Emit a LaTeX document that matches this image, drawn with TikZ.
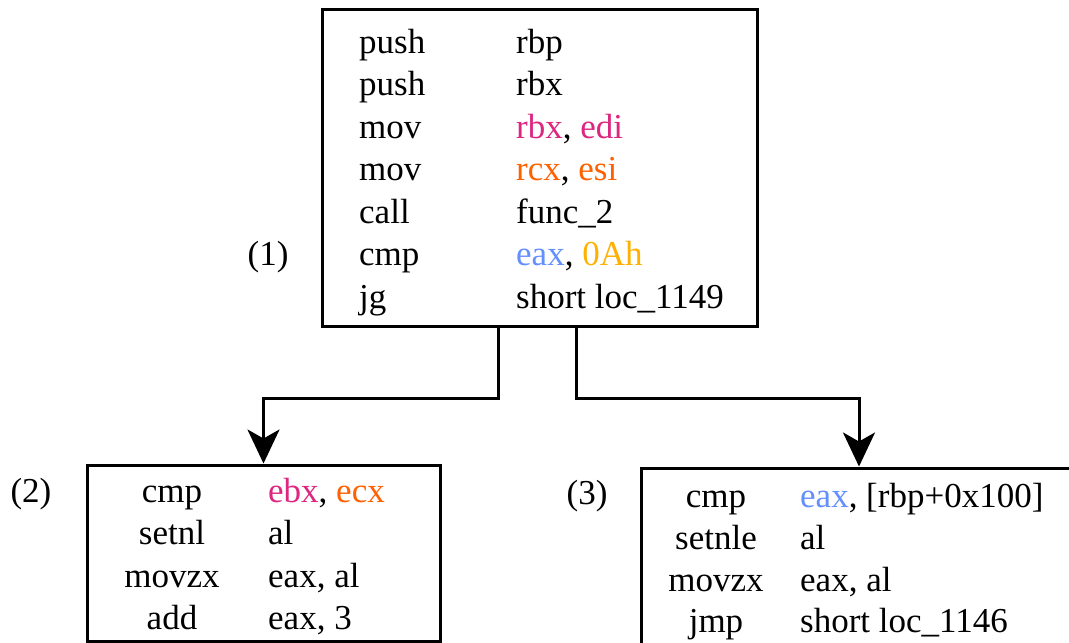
\documentclass[tikz,border=0pt]{standalone}
\usepackage{fontspec}
\setmainfont{Liberation Serif}
\usetikzlibrary{arrows.meta}
\definecolor{cmag}{HTML}{DC267F}
\definecolor{corg}{HTML}{FE6100}
\definecolor{cblu}{HTML}{648FFF}
\definecolor{cyel}{HTML}{FFB000}
\tikzset{
  box/.style={draw=black, line width=3pt, inner sep=0pt, fill=none},
  txt/.style={font=\fontsize{35}{42}\selectfont, inner sep=0pt, anchor=base west},
  ctxt/.style={font=\fontsize{35}{42}\selectfont, inner sep=0pt, anchor=base},
  conn/.style={line width=3pt, -{Stealth[length=34pt,width=32pt,inset=9pt]}}
}
\begin{document}
\begin{tikzpicture}[x=1pt,y=-1pt]
\useasboundingbox (0,0) rectangle (1069,643);
\clip (0,0) rectangle (1069,643);
% boxes
\node[box, minimum width=435pt, minimum height=317pt] (b1) at (539.5,167.5) {};
\node[box, minimum width=353pt, minimum height=176pt] (b2) at (263.5,553) {};
\node[box, minimum width=436pt, minimum height=190pt] (b3) at (859,563) {};
% box 1 text
\node[txt] (t11) at (359,53) {push};
\node[txt] (t12) at (516,53) {rbp};
\node[txt] (t21) at (359,95.5) {push};
\node[txt] (t22) at (516,95.5) {rbx};
\node[txt] (t31) at (359,138) {mov};
\node[txt] (t32) at (516,138) {\textcolor{cmag}{rbx}, \textcolor{cmag}{edi}};
\node[txt] (t41) at (359,180.5) {mov};
\node[txt] (t42) at (516,180.5) {\textcolor{corg}{rcx}, \textcolor{corg}{esi}};
\node[txt] (t51) at (359,223) {call};
\node[txt] (t52) at (516,223) {func\_2};
\node[txt] (t61) at (359,265.5) {cmp};
\node[txt] (t62) at (516,265.5) {\textcolor{cblu}{eax}, \textcolor{cyel}{0Ah}};
\node[txt] (t71) at (359,308) {jg};
\node[txt] (t72) at (516,308) {short loc\_1149};
\node[ctxt] (l1) at (268,265) {(1)};
% box 2 text
\node[ctxt] (u11) at (172,502) {cmp};
\node[txt] (u12) at (268,502) {\textcolor{cmag}{ebx}, \textcolor{corg}{ecx}};
\node[ctxt] (u21) at (172,544.5) {setnl};
\node[txt] (u22) at (268,544.5) {al};
\node[ctxt] (u31) at (172,587) {movzx};
\node[txt] (u32) at (268,587) {eax, al};
\node[ctxt] (u41) at (172,629.5) {add};
\node[txt] (u42) at (268,629.5) {eax, 3};
\node[ctxt] (l2) at (31,502) {(2)};
% box 3 text
\node[ctxt] (v11) at (716,507) {cmp};
\node[txt] (v12) at (800,507) {\textcolor{cblu}{eax}, [rbp+0x100]};
\node[ctxt] (v21) at (716,549) {setnle};
\node[txt] (v22) at (800,549) {al};
\node[ctxt] (v31) at (716,591) {movzx};
\node[txt] (v32) at (800,591) {eax, al};
\node[ctxt] (v41) at (716,632) {jmp};
\node[txt] (v42) at (800,632) {short loc\_1146};
\node[ctxt] (l3) at (587,504) {(3)};
% connectors
\coordinate (s1) at ([xshift=-41.5pt]b1.south);
\coordinate (s2) at ([xshift=36.5pt]b1.south);
\coordinate (m1) at (s1 |- 0,398);
\coordinate (m2) at (s2 |- 0,398);
\draw[conn] (s1) -- (m1) -| (b2.north);
\draw[conn] (s2) -- (m2) -| (b3.north);
\end{tikzpicture}
\end{document}
